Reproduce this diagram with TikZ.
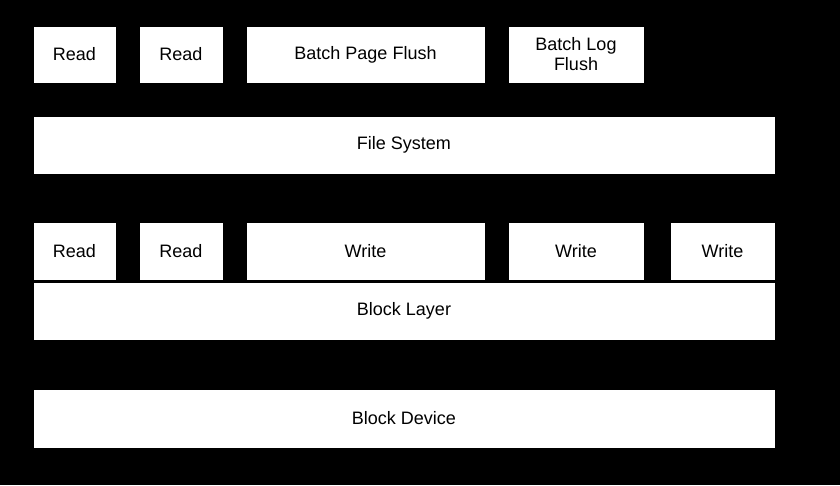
\documentclass[tikz,border=0pt]{standalone}
\usepackage{fontspec}
\setmainfont{Liberation Sans}
\usetikzlibrary{arrows.meta}
\begin{document}
\begin{tikzpicture}[x=1pt,y=-1pt,
  box/.style={draw=black,line width=1pt,fill=white,inner sep=0pt,align=center,
    font=\fontsize{18}{20}\selectfont,text=black},
  conn/.style={draw=black,line width=1pt,-{Stealth[length=7pt,width=6pt]}}]
\fill[black] (0,0) rectangle (840,485);
\useasboundingbox (0,0) rectangle (840,485);
% row 1
\node[box,minimum width=83pt,minimum height=57pt] (r1) at (74.5,54.5) {Read};
\node[box,minimum width=84pt,minimum height=57pt] (r2) at (181,54.5) {Read};
\node[box,minimum width=239pt,minimum height=57pt] (bpf) at (365.5,54.5) {Batch Page Flush};
\node[box,minimum width=136pt,minimum height=57pt] (blf) at (576,54.5) {Batch Log\\Flush};
% file system
\node[box,minimum width=742pt,minimum height=58pt] (fs) at (404,145) {File System};
% row 3
\node[box,minimum width=83pt,minimum height=58pt] (r3) at (74.5,251) {Read};
\node[box,minimum width=84pt,minimum height=58pt] (r4) at (181,251) {Read};
\node[box,minimum width=239pt,minimum height=58pt] (w1) at (365.5,251) {Write};
\node[box,minimum width=136pt,minimum height=58pt] (w2) at (576,251) {Write};
\node[box,minimum width=105pt,minimum height=58pt] (w3) at (722.5,251) {Write};
% block layer and device
\node[box,minimum width=742pt,minimum height=58pt] (bl) at (404,311) {Block Layer};
\node[box,minimum width=742pt,minimum height=59pt] (bd) at (404,418.5) {Block Device};
% connectors
\draw[conn] (r1.south) -- (r1.south |- fs.north);
\draw[conn] (r2.south) -- (r2.south |- fs.north);
\draw[conn] (bpf.south) -- (bpf.south |- fs.north);
\draw[conn] (blf.south) -- (blf.south |- fs.north);
\draw[conn] (fs.south -| r3.north) -- (r3.north);
\draw[conn] (fs.south -| r4.north) -- (r4.north);
\draw[conn] (fs.south -| w1.north) -- (w1.north);
\draw[conn] (fs.south -| w2.north) -- (w2.north);
\draw[conn] (fs.south -| w3.north) -- (w3.north);
\draw[conn] (bl.south) -- (bd.north);
\end{tikzpicture}
\end{document}
